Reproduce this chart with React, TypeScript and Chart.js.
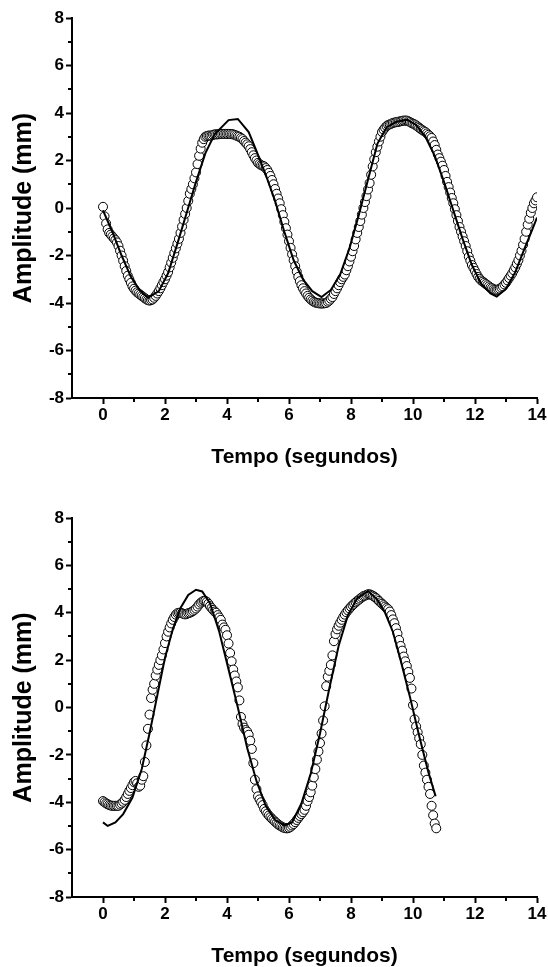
import { useEffect, useRef } from "react";
import { Chart, registerables } from "chart.js";

Chart.register(...registerables);

// Sampling interval of the measured series (seconds)
const SAMPLE_STEP = 0.05;

// Top panel: measured amplitude (mm), t = 0 .. 14 s
const TOP_AMP = [
  0.05, -0.35, -0.65, -0.9, -1.05, -1.12, -1.2, -1.28, -1.35, -1.45,
  -1.6, -1.8, -2.0, -2.22, -2.45, -2.65, -2.85, -3.0, -3.15, -3.3,
  -3.4, -3.48, -3.55, -3.6, -3.65, -3.7, -3.75, -3.8, -3.85, -3.88,
  -3.9, -3.88, -3.85, -3.78, -3.7, -3.6, -3.5, -3.38, -3.25, -3.12,
  -3.0, -2.85, -2.7, -2.5, -2.3, -2.1, -1.9, -1.7, -1.5, -1.3,
  -1.05, -0.78, -0.5, -0.25, 0.0, 0.3, 0.6, 0.8, 1.0, 1.25,
  1.5, 1.85, 2.2, 2.5, 2.75, 2.9, 3.0, 3.03, 3.05, 3.05,
  3.05, 3.08, 3.1, 3.1, 3.1, 3.11, 3.12, 3.12, 3.12, 3.12,
  3.12, 3.12, 3.12, 3.11, 3.1, 3.08, 3.05, 3.02, 3.0, 2.95,
  2.9, 2.82, 2.75, 2.68, 2.6, 2.48, 2.35, 2.22, 2.1, 2.0,
  1.9, 1.85, 1.8, 1.78, 1.75, 1.68, 1.6, 1.48, 1.35, 1.18,
  1.0, 0.8, 0.6, 0.4, 0.2, -0.05, -0.3, -0.58, -0.85, -1.12,
  -1.4, -1.68, -1.95, -2.2, -2.45, -2.68, -2.9, -3.08, -3.25, -3.38,
  -3.5, -3.6, -3.7, -3.78, -3.85, -3.9, -3.95, -3.98, -4.0, -4.01,
  -4.02, -4.02, -4.02, -4.01, -4.0, -3.95, -3.9, -3.82, -3.75, -3.62,
  -3.5, -3.38, -3.25, -3.12, -3.0, -2.9, -2.8, -2.62, -2.45, -2.25,
  -2.05, -1.82, -1.6, -1.32, -1.05, -0.8, -0.55, -0.28, 0.0, 0.25,
  0.5, 0.78, 1.05, 1.4, 1.75, 2.05, 2.35, 2.58, 2.8, 3.0,
  3.2, 3.3, 3.38, 3.45, 3.5, 3.52, 3.55, 3.58, 3.6, 3.61,
  3.62, 3.64, 3.65, 3.67, 3.68, 3.68, 3.68, 3.65, 3.62, 3.58,
  3.55, 3.52, 3.48, 3.43, 3.38, 3.33, 3.28, 3.24, 3.2, 3.14,
  3.08, 3.02, 2.95, 2.8, 2.65, 2.45, 2.25, 2.1, 1.95, 1.78,
  1.6, 1.35, 1.1, 0.88, 0.65, 0.42, 0.2, -0.05, -0.3, -0.55,
  -0.8, -1.0, -1.2, -1.4, -1.6, -1.82, -2.05, -2.22, -2.4, -2.52,
  -2.65, -2.78, -2.9, -2.98, -3.05, -3.1, -3.15, -3.2, -3.25, -3.3,
  -3.35, -3.38, -3.42, -3.44, -3.45, -3.43, -3.4, -3.35, -3.3, -3.22,
  -3.15, -3.05, -2.95, -2.85, -2.75, -2.62, -2.5, -2.35, -2.2, -2.0,
  -1.8, -1.55, -1.3, -1.0, -0.7, -0.45, -0.2, 0.0, 0.2, 0.32,
  0.45,
];

// Bottom panel: measured amplitude (mm), t = 0 .. 10.75 s
const BOTTOM_AMP = [
  -3.95, -4.0, -4.05, -4.08, -4.12, -4.14, -4.15, -4.15, -4.15, -4.15,
  -4.15, -4.1, -4.05, -3.98, -3.9, -3.78, -3.65, -3.52, -3.4, -3.28,
  -3.15, -3.1, -3.2, -3.35, -3.3, -3.05, -2.9, -2.3, -1.6, -0.9,
  -0.3, 0.4, 0.75, 1.0, 1.35, 1.6, 1.8, 2.0, 2.2, 2.45,
  2.72, 3.0, 3.2, 3.38, 3.55, 3.7, 3.82, 3.92, 3.98, 4.0,
  4.0, 3.98, 3.95, 3.93, 3.95, 3.98, 4.0, 4.03, 4.07, 4.12,
  4.18, 4.26, 4.35, 4.42, 4.47, 4.5, 4.5, 4.46, 4.38, 4.28,
  4.2, 4.12, 4.05, 4.0, 3.9, 3.8, 3.7, 3.5, 3.38, 3.28,
  3.05, 2.7, 2.3, 1.95, 1.6, 1.35, 1.1, 0.85, 0.3, -0.4,
  -0.7, -0.85, -0.95, -1.02, -1.15, -1.4, -1.75, -2.35, -3.05, -3.45,
  -3.75, -3.88, -4.0, -4.12, -4.28, -4.38, -4.48, -4.56, -4.63, -4.7,
  -4.76, -4.82, -4.88, -4.94, -4.98, -5.02, -5.06, -5.08, -5.1, -5.1,
  -5.08, -5.04, -4.98, -4.92, -4.84, -4.75, -4.66, -4.58, -4.5, -4.42,
  -4.32, -4.15, -3.95, -3.78, -3.58, -3.3, -2.95, -2.6, -2.2, -1.85,
  -1.5, -1.1, -0.55, 0.05, 0.9, 1.3, 1.55, 1.8, 2.2, 2.8,
  3.1, 3.3, 3.45, 3.58, 3.7, 3.82, 3.92, 4.02, 4.1, 4.18,
  4.25, 4.32, 4.38, 4.44, 4.5, 4.55, 4.6, 4.65, 4.7, 4.72,
  4.75, 4.78, 4.78, 4.75, 4.72, 4.68, 4.63, 4.57, 4.5, 4.44,
  4.38, 4.32, 4.26, 4.2, 4.15, 4.05, 3.9, 3.72, 3.56, 3.35,
  3.12, 2.85, 2.6, 2.4, 2.15, 1.95, 1.75, 1.5, 1.25, 0.8,
  0.1, -0.5, -0.8, -1.05, -1.3, -1.55, -2.0, -2.45, -2.75, -3.05,
  -3.35, -3.65, -4.15, -4.55, -4.9, -5.1,
];

// Fitted curves (solid line)
const TOP_FIT_T = [
  0.0, 0.3, 0.6, 0.9, 1.2, 1.45, 1.8, 2.1, 2.4, 2.7, 3.0, 3.3, 3.6, 3.9, 4.05, 4.35,
  4.7, 4.95, 5.25, 5.55, 5.85, 6.15, 6.45, 6.75, 7.05, 7.35, 7.65, 7.95, 8.25, 8.55,
  8.85, 9.15, 9.45, 9.8, 10.1, 10.4, 10.7, 11.0, 11.3, 11.6, 11.9, 12.2, 12.5, 12.7,
  13.0, 13.3, 13.6, 13.85, 14.0,
];
const TOP_FIT_Y = [
  -0.1, -1.0, -2.0, -2.9, -3.5, -3.78, -3.5, -2.75, -1.5, -0.2, 1.1, 2.3, 3.1, 3.5, 3.7, 3.75,
  3.2, 2.4, 1.4, 0.3, -1.0, -2.2, -3.0, -3.5, -3.75, -3.45, -2.8, -1.7, -0.3, 1.2,
  2.7, 3.4, 3.62, 3.72, 3.5, 3.0, 2.2, 1.1, -0.1, -1.3, -2.4, -3.2, -3.6, -3.73,
  -3.4, -2.7, -1.7, -0.9, -0.4,
];
const BOTTOM_FIT_T = [
  0.0, 0.15, 0.4, 0.65, 0.95, 1.25, 1.5, 1.75, 2.0, 2.25, 2.5, 2.75, 3.0, 3.2, 3.45,
  3.75, 4.05, 4.35, 4.65, 4.95, 5.25, 5.55, 5.85, 6.1, 6.4, 6.7, 7.0, 7.3, 7.6, 7.9,
  8.2, 8.55, 8.85, 9.1, 9.35, 9.6, 9.9, 10.2, 10.5, 10.73,
];
const BOTTOM_FIT_Y = [
  -4.85, -5.0, -4.85, -4.5, -3.8, -2.6, -1.1, 0.5, 2.1, 3.3, 4.2, 4.75, 4.97, 4.9, 4.4,
  3.2, 1.6, 0.0, -1.7, -3.1, -4.15, -4.75, -4.98, -4.85, -4.05, -2.8, -1.1, 0.8, 2.6, 3.9,
  4.6, 4.92, 4.55, 4.0, 3.2, 2.0, 0.45, -1.2, -2.75, -3.75,
];

const X_TICKS = [0, 2, 4, 6, 8, 10, 12, 14];
const X_MINOR = [1, 3, 5, 7, 9, 11, 13];
const Y_TICKS = [-8, -6, -4, -2, 0, 2, 4, 6, 8];
const Y_MINOR = [-7, -5, -3, -1, 1, 3, 5, 7];
const X_TITLE = "Tempo (segundos)";
const Y_TITLE = "Amplitude (mm)";

const FONT = "'Liberation Sans', Arial, Helvetica, sans-serif";

const minorTickPlugin = {
  id: "minorTicks",
  afterDraw(chart: any) {
    const { ctx } = chart;
    const x = chart.scales.x;
    const y = chart.scales.y;
    ctx.save();
    ctx.strokeStyle = "#000";
    ctx.lineWidth = 2;
    X_MINOR.forEach((v) => {
      const px = Math.round(x.getPixelForValue(v));
      ctx.beginPath();
      ctx.moveTo(px, x.top);
      ctx.lineTo(px, x.top + 4);
      ctx.stroke();
    });
    Y_MINOR.forEach((v) => {
      const py = Math.round(y.getPixelForValue(v));
      ctx.beginPath();
      ctx.moveTo(y.right, py);
      ctx.lineTo(y.right - 4, py);
      ctx.stroke();
    });
    ctx.restore();
  },
};

type PanelProps = {
  amp: number[];
  fitT: number[];
  fitY: number[];
  height: number;
  padTop: number;
  xScaleHeight: number;
  titlePadBottom: number;
};

function Panel({ amp, fitT, fitY, height, padTop, xScaleHeight, titlePadBottom }: PanelProps) {
  const ref = useRef<HTMLCanvasElement | null>(null);

  useEffect(() => {
    if (!ref.current) return;
    const circles = amp.map((v, i) => ({ x: Math.round(i * SAMPLE_STEP * 100) / 100, y: v }));
    const fit = fitT.map((t, i) => ({ x: t, y: fitY[i] }));
    const tickFont = { family: FONT, size: 17, weight: "bold" as const };
    const xTitleFont = { family: FONT, size: 21, weight: "bold" as const };
    const yTitleFont = { family: FONT, size: 25, weight: "bold" as const };

    const chart = new Chart(ref.current, {
      type: "scatter",
      data: {
        datasets: [
          {
            type: "line",
            data: fit,
            borderColor: "#000",
            borderWidth: 2,
            pointRadius: 0,
            tension: 0,
            fill: false,
            order: 0,
          } as any,
          {
            data: circles,
            pointRadius: 4.5,
            pointBorderWidth: 1,
            borderColor: "#000",
            backgroundColor: "#fff",
            pointBackgroundColor: "#fff",
            pointBorderColor: "#000",
            showLine: false,
            order: 1,
          } as any,
        ],
      },
      options: {
        responsive: false,
        animation: false,
        events: [],
        layout: { padding: { top: padTop, right: 11, left: 0, bottom: 0 } },
        plugins: { legend: { display: false }, tooltip: { enabled: false } },
        scales: {
          x: {
            type: "linear",
            min: -1,
            max: 14,
            afterBuildTicks: (s: any) => {
              s.ticks = X_TICKS.map((v) => ({ value: v }));
            },
            afterFit: (s: any) => {
              s.height = xScaleHeight;
            },
            grid: { drawOnChartArea: false, drawTicks: true, tickLength: 6, tickWidth: 2, tickColor: "#000" },
            border: { display: true, color: "#000", width: 2 },
            ticks: { color: "#000", font: tickFont, padding: 1, maxRotation: 0, autoSkip: false },
            title: { display: true, text: X_TITLE, color: "#000", font: xTitleFont, padding: { top: 0, bottom: titlePadBottom } },
          },
          y: {
            type: "linear",
            min: -8,
            max: 8,
            afterBuildTicks: (s: any) => {
              s.ticks = Y_TICKS.map((v) => ({ value: v }));
            },
            afterFit: (s: any) => {
              s.width = 72;
            },
            grid: { drawOnChartArea: false, drawTicks: true, tickLength: 6, tickWidth: 2, tickColor: "#000" },
            border: { display: true, color: "#000", width: 2 },
            ticks: { color: "#000", font: tickFont, padding: 2, autoSkip: false },
            title: { display: true, text: Y_TITLE, color: "#000", font: yTitleFont, padding: { top: 9, bottom: 0 } },
          },
        },
      } as any,
      plugins: [minorTickPlugin],
    });
    return () => chart.destroy();
  }, [amp, fitT, fitY, height, padTop, xScaleHeight, titlePadBottom]);

  return <canvas ref={ref} width={548} height={height} style={{ display: "block", width: 548, height }} />;
}

export default function App() {
  return (
    <div style={{ position: "absolute", left: 0, top: 0, width: 548, height: 967, background: "#fff" }}>
      <Panel amp={TOP_AMP} fitT={TOP_FIT_T} fitY={TOP_FIT_Y} height={483} padTop={18} xScaleHeight={85} titlePadBottom={13} />
      <Panel amp={BOTTOM_AMP} fitT={BOTTOM_FIT_T} fitY={BOTTOM_FIT_Y} height={484} padTop={35} xScaleHeight={70} titlePadBottom={-2} />
    </div>
  );
}
